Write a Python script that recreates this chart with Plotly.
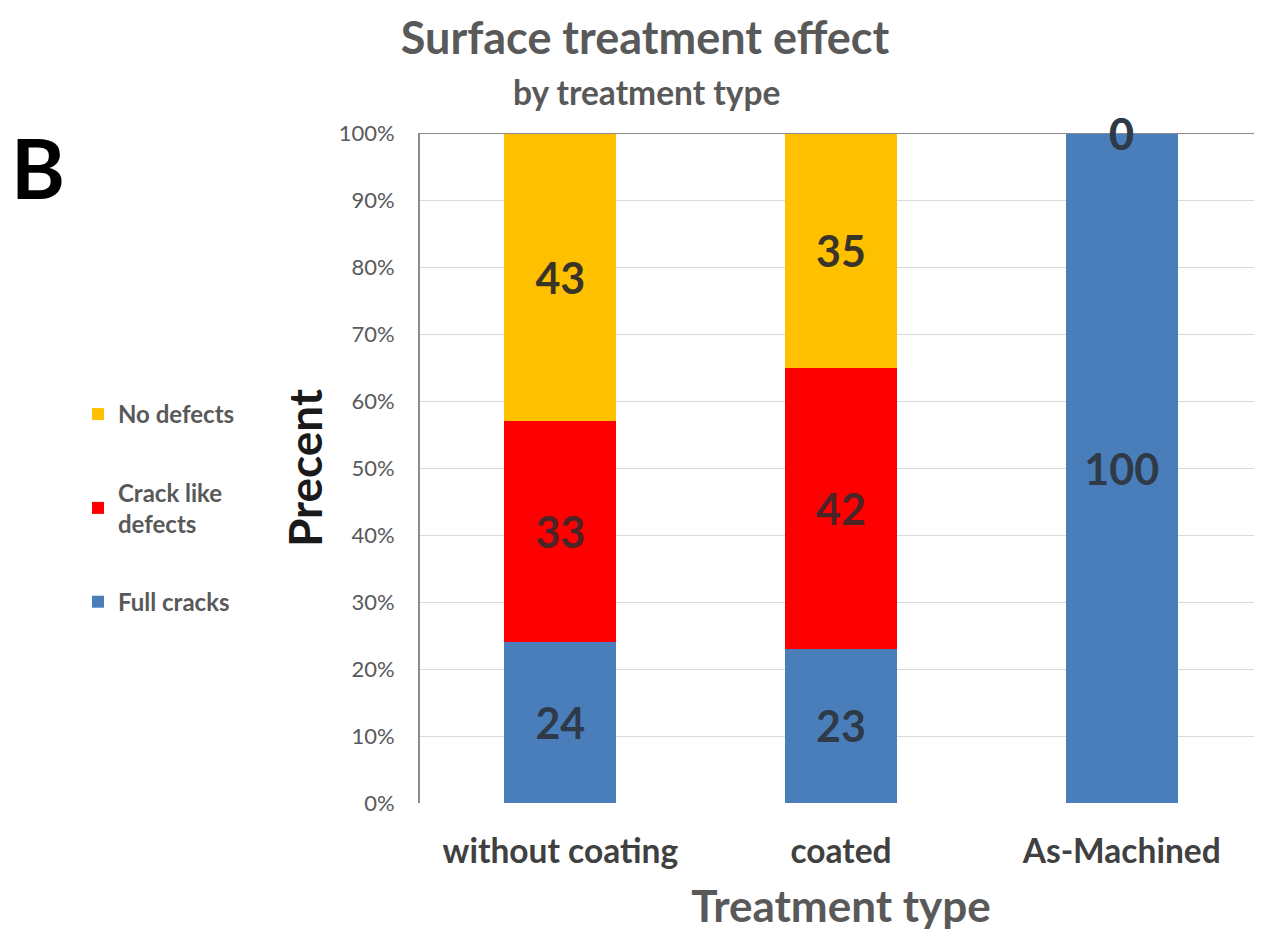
import plotly.graph_objects as go

categories = ["without coating", "coated", "As-Machined"]
full_cracks = [24, 23, 100]
crack_like = [33, 42, 0]
no_defects = [43, 35, 0]
series_names = ["Full cracks", "Crack like<br>defects", "No defects"]
legend_ranks = [3, 2, 1]
series_colors = ["#4a7ebb", "#ff0000", "#ffc000"]
label_colors = ["#2f3a48", "#4a2426", "#3a3428"]
y_ticks = [0, 10, 20, 30, 40, 50, 60, 70, 80, 90, 100]
y_tick_labels = ["0%", "10%", "20%", "30%", "40%", "50%", "60%", "70%", "80%", "90%", "100%"]

FONT = "Lato"
series_values = [full_cracks, crack_like, no_defects]

# body margin of 8px in the page: figure drawn 8px in from top-left
W, H = 1254, 925
L, T, B = 412, 125, 130
PW, PH = W - L, H - T - B

def px(xs):  # screen x -> paper x
    return (xs - 8 - L) / PW

def py(ys):  # screen y -> paper y
    return (H - B - (ys - 8)) / PH

fig = go.Figure()
for i, (name, vals, col, lcol) in enumerate(zip(series_names, series_values, series_colors, label_colors)):
    fig.add_trace(go.Bar(
        x=categories, y=vals, name=name,
        marker=dict(color=col, line=dict(width=0)),
        text=[str(v) if v > 0 else "" for v in vals],
        textposition="inside", insidetextanchor="middle",
        textfont=dict(family=FONT, size=43, color=lcol, weight="bold"),
        legendgroup=f"g{i}", legendrank=legend_ranks[i],
        cliponaxis=False,
    ))

# labels for zero-height segments (drawn at their stacked position)
for s, vals in enumerate(series_values):
    for c, v in enumerate(vals):
        if v == 0:
            base = sum(series_values[k][c] for k in range(s))
            fig.add_annotation(x=categories[c], y=base, text=str(v), showarrow=False,
                               font=dict(family=FONT, size=43, color="#2f3a48", weight="bold"),
                               xref="x", yref="y", yanchor="middle")

fig.add_annotation(text="B", xref="paper", yref="paper",
                   x=px(38), y=py(167), showarrow=False,
                   xanchor="center", yanchor="middle",
                   font=dict(family=FONT, size=82, color="#000000", weight="bold"))
fig.add_annotation(text="by treatment type", xref="paper", yref="paper",
                   x=px(646), y=py(92), showarrow=False,
                   xanchor="center", yanchor="middle",
                   font=dict(family=FONT, size=33.5, color="#595959", weight="bold"))

# top frame line at 100%
fig.add_shape(type="line", xref="paper", yref="y", x0=0, x1=1, y0=100, y1=100,
              line=dict(color="#8c8c8c", width=2))

fig.update_layout(
    width=W, height=H,
    barmode="stack", bargap=0.6,
    paper_bgcolor="white", plot_bgcolor="white",
    margin=dict(l=L, r=0, t=T, b=B),
    title=dict(text="Surface treatment effect", x=px(645), xref="paper", xanchor="center",
               y=1 - (38 - 8) / H, yref="container", yanchor="middle",
               font=dict(family=FONT, size=45, color="#595959", weight="bold")),
    legend=dict(x=px(78), y=py(392), xanchor="left", yanchor="top",
                traceorder="grouped", tracegroupgap=44,
                font=dict(family=FONT, size=24, color="#595959", weight="bold"),
                itemwidth=30),
    xaxis=dict(
        showgrid=False, showline=False, ticks="",
        tickfont=dict(family=FONT, size=33.5, color="#404040", weight="bold"),
        ticklabelstandoff=25,
        title=dict(text="Treatment type", standoff=22,
                   font=dict(family=FONT, size=44, color="#595959", weight="bold")),
    ),
    yaxis=dict(
        range=[0, 100], tickvals=y_ticks, ticktext=y_tick_labels,
        showgrid=True, gridcolor="#d9d9d9", gridwidth=1,
        zeroline=False, showline=True, linecolor="#8c8c8c", linewidth=2,
        ticks="", ticklabelstandoff=19,
        tickfont=dict(family=FONT, size=22, color="#595959"),
        title=dict(text="Precent", standoff=2,
                   font=dict(family=FONT, size=46, color="#1a1a1a", weight="bold")),
    ),
)

fig.write_html("out.html")
